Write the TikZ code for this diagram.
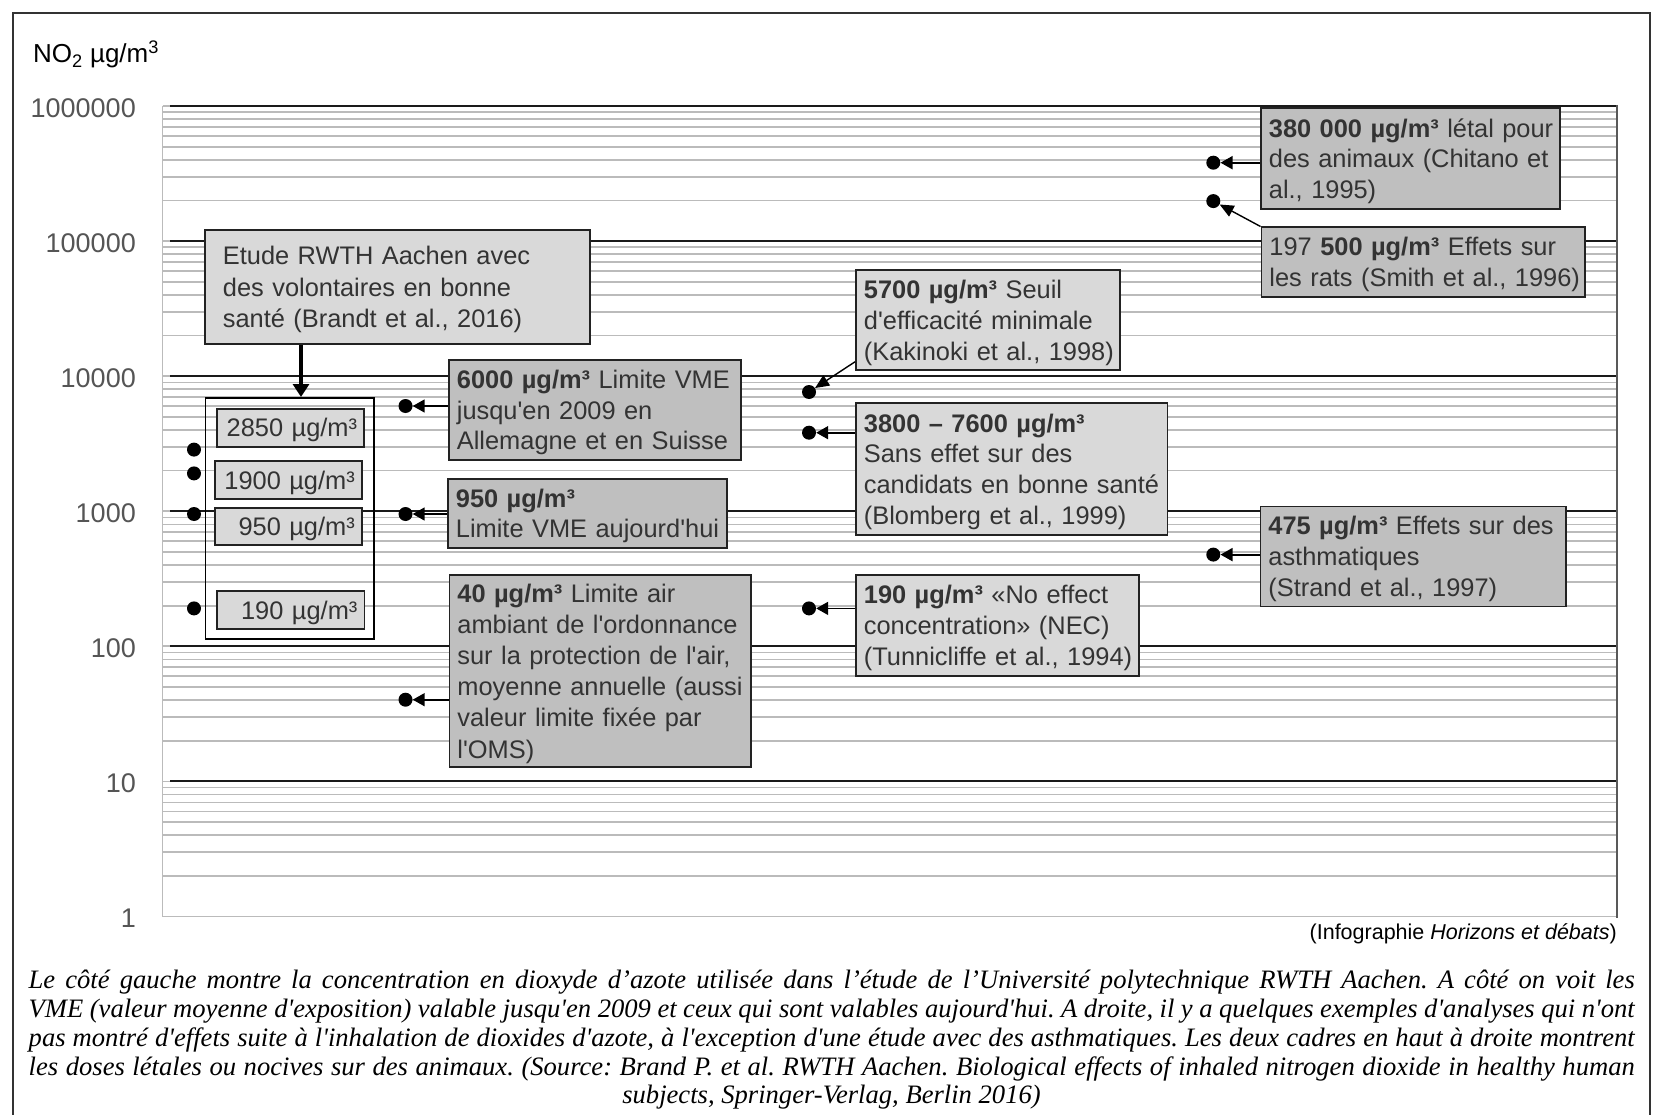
\documentclass[tikz,border=0pt]{standalone}
\usepackage{fontspec}
\newfontfamily\sfont{Liberation Sans}
\newfontfamily\capfont{Liberation Serif}
\usetikzlibrary{arrows.meta,calc}
\definecolor{gridgray}{HTML}{BBBBBB}
\definecolor{majorline}{HTML}{1A1A1A}
\definecolor{lightfill}{HTML}{D9D9D9}
\definecolor{darkfill}{HTML}{BFBFBF}
\definecolor{txt}{HTML}{333333}
\definecolor{axistxt}{HTML}{555555}
\definecolor{boxline}{HTML}{222222}
\definecolor{framecol}{HTML}{333333}
\newcommand\tst{\rule[-6pt]{0pt}{30.5pt}}
\newcommand\BL[1]{\mbox{\tst#1\tst}}
\newcommand\ug{µg/m³}
\frenchspacing
\begin{document}
\begin{tikzpicture}[x=1pt,y=-1pt,
  minor/.style={draw=gridgray, line width=1.7pt},
  major/.style={draw=majorline, line width=2pt},
  boxbase/.style={draw=boxline, line width=1.8pt, anchor=north west, inner xsep=8pt, inner ysep=0pt,
     align=left, font=\sfont\fontsize{25.4}{30.8}\selectfont\frenchspacing, text=txt},
  lbox/.style={boxbase, fill=lightfill},
  dbox/.style={boxbase, fill=darkfill},
  inbox/.style={lbox, align=right, inner xsep=7pt},
  dot/.style={circle, fill=black, inner sep=0pt, minimum size=14pt},
  arr/.style={draw=black, line width=1.8pt, -{Triangle[length=12pt,width=13pt]}},
  thinarr/.style={draw=black, line width=1.4pt, -{Triangle[length=14pt,width=12pt]}},
  bigarr/.style={draw=black, line width=3.2pt, -{Triangle[length=13pt,width=16pt]}},
  axlab/.style={anchor=east, inner sep=0pt, text=axistxt, font=\sfont\fontsize{27}{30}\selectfont},
  capline/.style={inner sep=0pt, font=\capfont\itshape\fontsize{26.6}{28.75}\selectfont\frenchspacing}
]
\useasboundingbox (0,0) rectangle (1657,1115);
\fill[white] (0,0) rectangle (1657,1115);
% outer frame
\draw[draw=framecol, line width=1.5pt] (13,1125) -- (13,13) -- (1650,13) -- (1650,1125);

% grid
\foreach \d in {0,...,5}{
  \foreach \k in {2,...,9}{
    \draw[minor] (162.6,{916.5-135.08*(\d+log10(\k))}) -- (1617,{916.5-135.08*(\d+log10(\k))});
  }
}
\foreach \d in {0,...,6}{
  \draw[minor] (162.6,{916.5-135.08*\d}) -- (1617,{916.5-135.08*\d});
}
\foreach \d in {1,...,6}{
  \draw[major] (170,{916.5-135.08*\d}) -- (1617,{916.5-135.08*\d});
}
\draw[minor] (162.6,106) -- (162.6,916.5);
\draw[draw=black!65, line width=2pt] (1617,105) -- (1617,917.5);

% axis labels
\foreach \v/\lab in {6/1000000,5/100000,4/10000,3/1000,2/100,1/10,0/1}{
  \node[axlab] (ax\v) at (136,{916.5-135.08*\v+2}) {\lab};
}
\node[anchor=base west, inner sep=0pt, font=\sfont\fontsize{26}{30}\selectfont] (unit) at (33,63)
  {NO\textsubscript{2} µg/m\textsuperscript{3}};

% left study
\node[lbox, inner xsep=18pt, font=\sfont\fontsize{25.4}{29.8}\selectfont, minimum width=385pt, minimum height=114pt, text width=349pt] (etude) at (204,229)
  {\BL{Etude RWTH Aachen avec}\\\BL{des volontaires en bonne}\\\BL{santé (Brandt et al., 2016)}};
\node[draw=black, line width=1.6pt, anchor=north west, minimum width=168.3pt, minimum height=241pt, inner sep=0pt] (grp) at (204.7,397) {};
\node[inbox, minimum width=147pt, minimum height=38pt, text width=133pt] (i2850) at (216.2,407.7) {\BL{2850 \ug}};
\node[inbox, minimum width=146.6pt, minimum height=38pt, text width=132.6pt] (i1900) at (214.3,460) {\BL{1900 \ug}};
\node[inbox, minimum width=146.6pt, minimum height=37.3pt, text width=132.6pt] (i950) at (214.3,507) {\BL{950 \ug}};
\node[inbox, minimum width=147.3pt, minimum height=38.3pt, text width=133.3pt] (i190) at (216.2,590) {\BL{190 \ug}};
\coordinate (ax) at (301,0);
\draw[bigarr] (etude.south -| ax) -- (grp.north -| ax);

\node[dot] (l2850) at (194,449.6) {};
\node[dot] (l1900) at (194,473.4) {};
\node[dot] (l950) at (194,514.0) {};
\node[dot] (l190) at (194,608.4) {};

% limits
\node[dbox, minimum width=292pt, minimum height=100pt, text width=276pt] (b6000) at (448,359)
  {\BL{{\bfseries 6000 \ug} Limite VME}\\\BL{jusqu'en 2009 en}\\\BL{Allemagne et en Suisse}};
\node[dbox, minimum width=279.3pt, minimum height=68.7pt, text width=263.3pt] (b950) at (447,478)
  {\BL{\bfseries 950 \ug}\\\BL{Limite VME aujourd'hui}};
\node[dbox, font=\sfont\fontsize{25.4}{31.2}\selectfont, minimum width=301.5pt, minimum height=192pt, text width=285.5pt] (b40) at (448.5,574)
  {\BL{{\bfseries 40 \ug} Limite air}\\\BL{ambiant de l'ordonnance}\\\BL{sur la protection de l'air,}\\\BL{moyenne annuelle (aussi}\\\BL{valeur limite fixée par}\\\BL{l'OMS)}};
\node[dot] (m6000) at (405.5,406) {};
\node[dot] (m950) at (405.5,514.0) {};
\node[dot] (m40) at (405.5,699.7) {};
\draw[arr] (b6000.west |- m6000) -- (m6000);
\draw[arr] (b950.west |- m950) -- (m950);
\draw[arr] (b40.west |- m40) -- (m40);

% middle studies
\node[lbox, minimum width=264pt, minimum height=99.7pt, text width=248pt] (b5700) at (855,269.3)
  {\BL{{\bfseries 5700 \ug} Seuil}\\\BL{d'efficacité minimale}\\\BL{(Kakinoki et al., 1998)}};
\node[lbox, minimum width=311.5pt, minimum height=131.7pt, text width=295.5pt] (b3800) at (855,402.3)
  {\BL{\bfseries 3800 – 7600 \ug}\\\BL{Sans effet sur des}\\\BL{candidats en bonne santé}\\\BL{(Blomberg et al., 1999)}};
\node[lbox, minimum width=283.3pt, minimum height=101pt, text width=267.3pt] (bnec) at (855,574)
  {\BL{{\bfseries 190 \ug} «No effect}\\\BL{concentration» (NEC)}\\\BL{(Tunnicliffe et al., 1994)}};
\node[dot] (c5700) at (809,392) {};
\node[dot] (c3800) at (809,432.7) {};
\node[dot] (c190) at (809,608.4) {};
\draw[thinarr] ($(b5700.south west)+(0,-9)$) -- (c5700);
\draw[arr] (b3800.west |- c3800) -- (c3800);
\draw[arr] (bnec.west |- c190) -- (c190);

% right studies
\node[dbox, minimum width=299pt, minimum height=101.5pt, text width=283pt] (b380) at (1260,107)
  {\BL{{\bfseries 380 000 \ug} létal pour}\\\BL{des animaux (Chitano et}\\\BL{al., 1995)}};
\node[dbox, minimum width=323.5pt, minimum height=69.5pt, text width=307.5pt] (b197) at (1260.5,226.5)
  {\BL{197 {\bfseries 500 \ug} Effets sur}\\\BL{les rats (Smith et al., 1996)}};
\node[dbox, minimum width=305.5pt, minimum height=100pt, text width=289.5pt] (b475) at (1259.5,505.5)
  {\BL{{\bfseries 475 \ug} Effets sur des}\\\BL{asthmatiques}\\\BL{(Strand et al., 1997)}};
\node[dot] (r380) at (1213.3,162.7) {};
\node[dot] (r197) at (1213.3,201.1) {};
\node[dot] (r475) at (1213.3,554.6) {};
\draw[arr] (b380.west |- r380) -- (r380);
\draw[thinarr] (b197.north west) -- (r197);
\draw[arr] (b475.west |- r475) -- (r475);

% credit and caption
\node[anchor=base east, inner sep=0pt, font=\sfont\fontsize{21.5}{25}\selectfont] (credit) at (1617,939)
  {(Infographie \textit{Horizons et débats})};
\node[capline, anchor=base west] (cap1) at (28.5,988.6)
  {\makebox[1606pt][s]{Le côté gauche montre la concentration en dioxyde d’azote utilisée dans l’étude de l’Université polytechnique RWTH Aachen. A côté on voit les}};
\node[capline, anchor=base west] (cap2) at (28.5,1017.2)
  {\makebox[1606pt][s]{VME (valeur moyenne d'exposition) valable jusqu'en 2009 et ceux qui sont valables aujourd'hui. A droite, il y a quelques exemples d'analyses qui n'ont}};
\node[capline, anchor=base west] (cap3) at (28.5,1046.8)
  {\makebox[1606pt][s]{pas montré d'effets suite à l'inhalation de dioxides d'azote, à l'exception d'une étude avec des asthmatiques. Les deux cadres en haut à droite montrent}};
\node[capline, anchor=base west] (cap4) at (28.5,1075.3)
  {\makebox[1606pt][s]{les doses létales ou nocives sur des animaux. (Source: Brand P. et al. RWTH Aachen. Biological effects of inhaled nitrogen dioxide in healthy human}};
\node[capline, anchor=base] (cap5) at (831.5,1103.8)
  {subjects, Springer-Verlag, Berlin 2016)};
\end{tikzpicture}
\end{document}
